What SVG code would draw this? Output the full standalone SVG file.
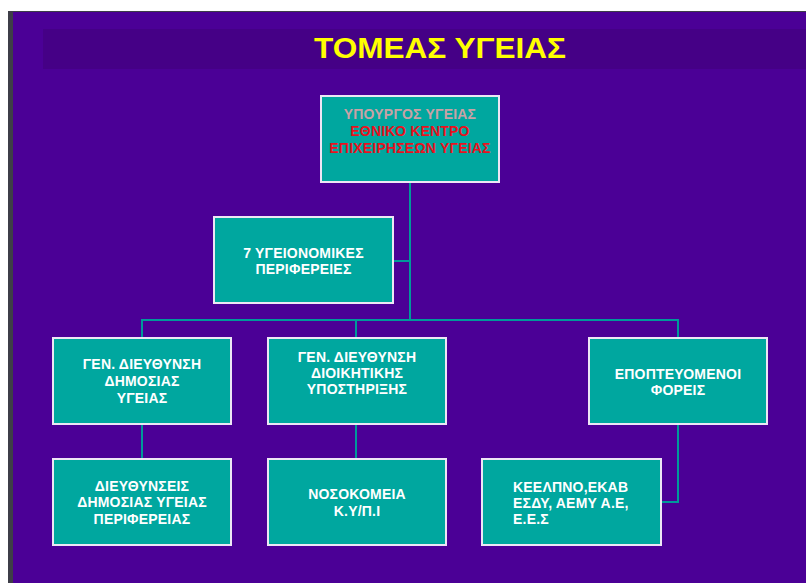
<svg xmlns="http://www.w3.org/2000/svg" width="806" height="583" viewBox="0 0 806 583">
<style>
.box{fill:#00A79F;stroke:#EDE6F5;stroke-width:2}
.t{font-family:"Liberation Sans",Arial,sans-serif;font-weight:bold;font-size:14px;letter-spacing:0.2px;fill:#FFFFFF;text-anchor:middle}
.tl{text-anchor:start}
.con{fill:none;stroke:#00999A;stroke-width:2}
</style>
<rect x="0" y="0" width="806" height="583" fill="#FFFFFF"/>
<rect x="8" y="11" width="798" height="572" fill="#3E3E48"/>
<rect x="13" y="12" width="793" height="571" fill="#4B0096"/>
<rect x="43" y="29" width="763" height="40" fill="#450086"/>
<text x="440" y="58" font-family="'Liberation Sans',Arial,sans-serif" font-weight="bold" font-size="29" fill="#FFFF00" text-anchor="middle" textLength="252" lengthAdjust="spacingAndGlyphs">ΤΟΜΕΑΣ ΥΓΕΙΑΣ</text>
<g id="connectors">
<path class="con" d="M410 182V320"/>
<path class="con" d="M393 261H410"/>
<path class="con" d="M142 338V320H678V338"/>
<path class="con" d="M356 320V338"/>
<path class="con" d="M142 424V459"/>
<path class="con" d="M356 424V459"/>
<path class="con" d="M678 424V502H661"/>
</g>
<g id="minister">
<rect class="box" x="321" y="96" width="178" height="86"/>
<text class="t" x="410" y="119" style="fill:#C9A2A6">ΥΠΟΥΡΓΟΣ ΥΓΕΙΑΣ</text>
<text class="t" x="410" y="136" style="fill:#E8121E">ΕΘΝΙΚΟ ΚΕΝΤΡΟ</text>
<text class="t" x="410" y="153" style="fill:#E8121E">ΕΠΙΧΕΙΡΗΣΕΩΝ ΥΓΕΙΑΣ</text>
</g>
<g id="regions">
<rect class="box" x="214" y="217" width="179" height="86"/>
<text class="t" x="303.5" y="258">7 ΥΓΕΙΟΝΟΜΙΚΕΣ</text>
<text class="t" x="303.5" y="274">ΠΕΡΙΦΕΡΕΙΕΣ</text>
</g>
<g id="gd-public-health">
<rect class="box" x="53" y="338" width="178" height="86"/>
<text class="t" x="142" y="369">ΓΕΝ. ΔΙΕΥΘΥΝΣΗ</text>
<text class="t" x="142" y="386">ΔΗΜΟΣΙΑΣ</text>
<text class="t" x="142" y="403">ΥΓΕΙΑΣ</text>
</g>
<g id="gd-admin">
<rect class="box" x="268" y="338" width="178" height="86"/>
<text class="t" x="357" y="362">ΓΕΝ. ΔΙΕΥΘΥΝΣΗ</text>
<text class="t" x="357" y="378">ΔΙΟΙΚΗΤΙΚΗΣ</text>
<text class="t" x="357" y="394">ΥΠΟΣΤΗΡΙΞΗΣ</text>
</g>
<g id="supervised">
<rect class="box" x="589" y="338" width="178" height="86"/>
<text class="t" x="678" y="379">ΕΠΟΠΤΕΥΟΜΕΝΟΙ</text>
<text class="t" x="678" y="395">ΦΟΡΕΙΣ</text>
</g>
<g id="regional-directorates">
<rect class="box" x="53" y="459" width="178" height="86"/>
<text class="t" x="142" y="491">ΔΙΕΥΘΥΝΣΕΙΣ</text>
<text class="t" x="142" y="507">ΔΗΜΟΣΙΑΣ ΥΓΕΙΑΣ</text>
<text class="t" x="142" y="524">ΠΕΡΙΦΕΡΕΙΑΣ</text>
</g>
<g id="hospitals">
<rect class="box" x="268" y="459" width="178" height="86"/>
<text class="t" x="357" y="499">ΝΟΣΟΚΟΜΕΙΑ</text>
<text class="t" x="357" y="516">Κ.Υ/Π.Ι</text>
</g>
<g id="bodies">
<rect class="box" x="482" y="459" width="179" height="86"/>
<text class="t tl" x="513" y="492">ΚΕΕΛΠΝΟ,ΕΚΑΒ</text>
<text class="t tl" x="513" y="508">ΕΣΔΥ, ΑΕΜΥ Α.Ε,</text>
<text class="t tl" x="513" y="524">Ε.Ε.Σ</text>
</g>
</svg>
